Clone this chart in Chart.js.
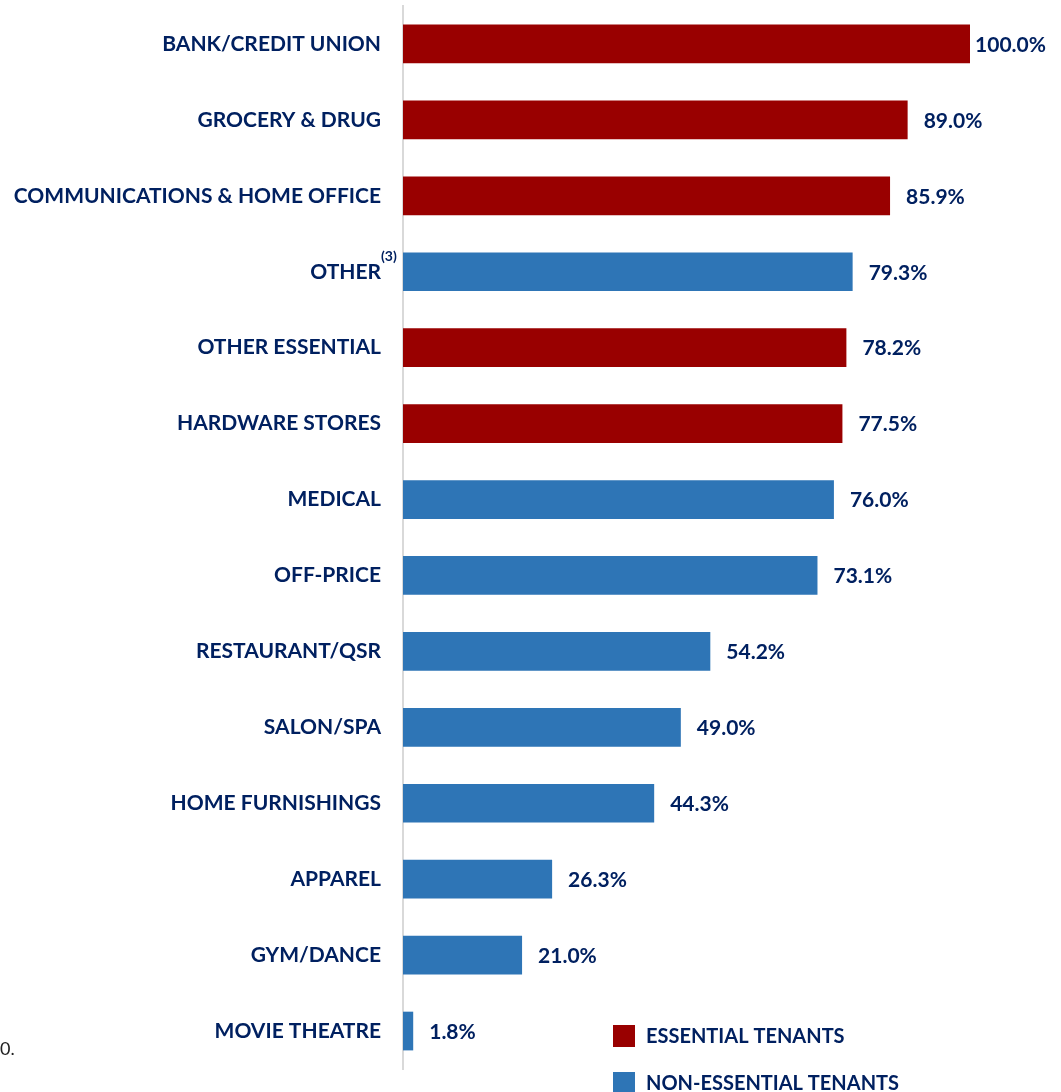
<!DOCTYPE html>
<html>
<head>
<meta charset="utf-8">
<script src="https://cdn.jsdelivr.net/npm/chart.js@4"></script>
<style>
  html, body { margin: 0; padding: 0; background: #fff; }
  #wrap { width: 1061px; height: 1092px; position: relative; }
</style>
</head>
<body>
<div id="wrap"><canvas id="myChart"></canvas></div>
<script>
  const categories = ['BANK/CREDIT UNION', 'GROCERY & DRUG', 'COMMUNICATIONS & HOME OFFICE', 'OTHER',
    'OTHER ESSENTIAL', 'HARDWARE STORES', 'MEDICAL', 'OFF-PRICE', 'RESTAURANT/QSR', 'SALON/SPA',
    'HOME FURNISHINGS', 'APPAREL', 'GYM/DANCE', 'MOVIE THEATRE'];
  const values = [100.0, 89.0, 85.9, 79.3, 78.2, 77.5, 76.0, 73.1, 54.2, 49.0, 44.3, 26.3, 21.0, 1.8];
  const essential = [true, true, true, false, true, true, false, false, false, false, false, false, false, false];
  const legendLabels = ['ESSENTIAL TENANTS', 'NON-ESSENTIAL TENANTS'];

  const RED = '#990000';
  const BLUE = '#2E75B6';
  const NAVY = '#002060';
  const FONT = 'Lato, "Open Sans", sans-serif';

  // value labels, superscript, legend, footnote fragment
  const extras = {
    id: 'extras',
    afterDatasetsDraw(chart) {
      const c = chart.ctx;
      const meta = chart.getDatasetMeta(0);
      c.save();
      c.fillStyle = NAVY;
      c.font = 'bold 21px ' + FONT;
      c.textBaseline = 'middle';
      c.textAlign = 'left';
      meta.data.forEach((bar, i) => {
        const txt = values[i].toFixed(1) + '%';
        const w = c.measureText(txt).width;
        const x = Math.min(bar.x + 16, chart.width - 15 - w);
        c.fillText(txt, x, bar.y + 1);
      });

      // superscript on OTHER
      const yScale = chart.scales.y;
      const oy = yScale.getPixelForValue(3);
      c.font = 'bold 14px ' + FONT;
      c.fillText('(3)', 381, oy - 15);

      // legend
      const items = [[RED, legendLabels[0], 1036], [BLUE, legendLabels[1], 1083]];
      items.forEach(([col, txt, y]) => {
        c.fillStyle = col;
        c.fillRect(613, y - 11, 22, 22);
        c.fillStyle = NAVY;
        c.font = 'bold 20px ' + FONT;
        c.fillText(txt, 646, y + 1);
      });

      c.fillStyle = '#222';
      c.font = '18px ' + FONT;
      c.fillText('0.', 0, 1049);
      c.restore();
    }
  };

  const ctx = document.getElementById('myChart').getContext('2d');

  const myChart = new Chart(ctx, {
    type: 'bar',
    data: {
      labels: categories,
      datasets: [{
        data: values,
        backgroundColor: essential.map(e => e ? RED : BLUE),
        barPercentage: 0.51,
        categoryPercentage: 1
      }]
    },
    plugins: [extras],
    options: {
      indexAxis: 'y',
      responsive: true,
      maintainAspectRatio: false,
      animation: false,
      layout: { padding: { top: 6, bottom: 23, right: 91, left: 0 } },
      plugins: {
        legend: { display: false },
        tooltip: { enabled: false }
      },
      scales: {
        x: { display: false, min: 0, max: 100 },
        y: {
          afterFit(s) {
            s.width = 403;
            s.paddingTop = 0;
            s.paddingBottom = 0;
          },
          grid: { display: false, drawTicks: false },
          border: { color: '#d9d9d9', width: 2 },
          ticks: {
            color: NAVY,
            padding: 22,
            font: { family: FONT, weight: 'bold', size: 21 }
          }
        }
      }
    }
  });
</script>
</body>
</html>
